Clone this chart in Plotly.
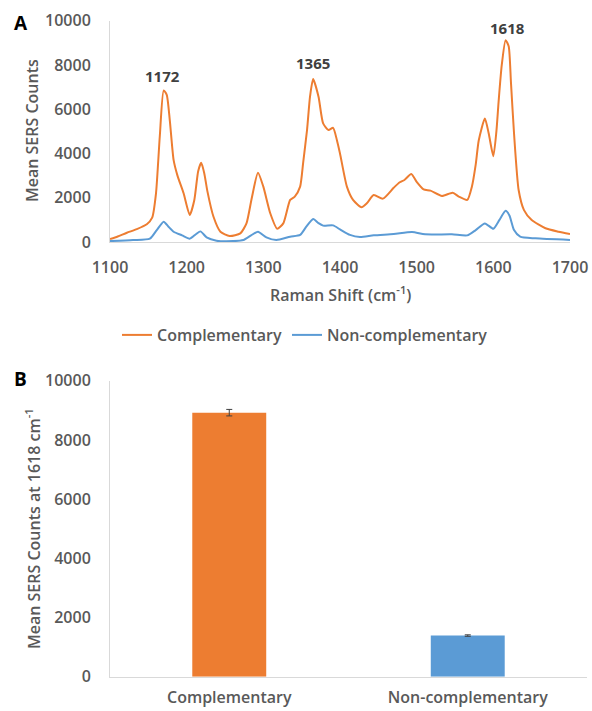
import plotly.graph_objects as go

# ---- Panel A: mean SERS spectra ----
comp_shift = [1100, 1110, 1122, 1135, 1148, 1155, 1160, 1165, 1170, 1174, 1178, 1183, 1188, 1196,
              1204, 1210, 1215, 1219, 1223, 1227, 1235, 1244, 1256, 1270, 1278, 1285, 1293, 1300,
              1309, 1318, 1326, 1335, 1341, 1348, 1352, 1357, 1361, 1365, 1372, 1378, 1385, 1391,
              1396, 1400, 1409, 1417, 1428, 1435, 1444, 1456, 1470, 1478, 1484, 1493, 1500, 1509,
              1518, 1533, 1547, 1555, 1566, 1572, 1577, 1581, 1589, 1594, 1600, 1604, 1607, 1611,
              1616, 1620, 1623, 1627, 1633, 1640, 1650, 1668, 1685, 1700]
comp_counts = [130, 250, 420, 580, 800, 1100, 2200, 4800, 6850, 6650, 5500, 3700, 3000, 2200,
               1220, 1900, 3200, 3580, 3100, 2300, 1140, 465, 270, 390, 840, 2000, 3130, 2500,
               1300, 600, 840, 1900, 2050, 2500, 3600, 5060, 6600, 7360, 6560, 5360, 5060, 5160,
               4600, 4000, 2500, 1900, 1570, 1750, 2120, 1960, 2450, 2700, 2800, 3070, 2720, 2380,
               2320, 2080, 2230, 2050, 1900, 2500, 3500, 4600, 5580, 4900, 3880, 5000, 6400, 8000,
               9120, 8850, 7200, 4900, 2350, 1440, 990, 620, 465, 360]

noncomp_shift = [1100, 1130, 1152, 1161, 1170, 1176, 1183, 1194, 1204, 1212, 1218, 1226, 1239,
                 1261, 1274, 1284, 1293, 1304, 1317, 1335, 1348, 1356, 1365, 1372, 1378, 1391,
                 1400, 1413, 1426, 1444, 1470, 1494, 1511, 1546, 1566, 1577, 1589, 1600, 1608,
                 1616, 1621, 1627, 1635, 1655, 1700]
noncomp_counts = [40, 90, 150, 540, 920, 700, 465, 300, 150, 350, 480, 210, 60,
                  40, 90, 300, 465, 210, 90, 240, 320, 690, 1040, 850, 740, 750,
                  570, 320, 225, 300, 360, 450, 345, 345, 300, 540, 840, 600, 1000,
                  1410, 1200, 540, 240, 165, 90]

peak_labels = ["1172", "1365", "1618"]
peak_x = [1169, 1365, 1618]
peak_label_y = [7500, 8100, 9650]

x_ticks = [1100, 1200, 1300, 1400, 1500, 1600, 1700]
y_ticks = [0, 2000, 4000, 6000, 8000, 10000]
y_tick_labels = ["0", "2000", "4000", "6000", "8000", "10000"]

# ---- Panel B: counts at 1618 cm-1 ----
groups = ["Complementary", "Non-complementary"]
mean_1618 = [8920, 1390]
err_1618 = [110, 25]

ORANGE = "#ED7D31"
BLUE = "#5B9BD5"
TXT = "#595959"
AXC = "#D9D9D9"
FONT = "Open Sans"
W, H = 592, 711

fig = go.Figure()
fig.add_trace(go.Scatter(x=comp_shift, y=comp_counts, mode="lines", name="Complementary",
                         line=dict(color=ORANGE, width=2, shape="spline", smoothing=0.6),
                         xaxis="x", yaxis="y"))
fig.add_trace(go.Scatter(x=noncomp_shift, y=noncomp_counts, mode="lines", name="Non-complementary",
                         line=dict(color=BLUE, width=2, shape="spline", smoothing=0.6),
                         xaxis="x", yaxis="y"))
fig.add_trace(go.Bar(x=groups, y=mean_1618, marker=dict(color=[ORANGE, BLUE], line=dict(width=0)),
                     error_y=dict(type="data", array=err_1618, color="#404040", thickness=1, width=3),
                     showlegend=False, xaxis="x2", yaxis="y2"))

tickfont = dict(family=FONT, size=16, color=TXT, weight=600)

def px_x(p):
    return p / W

def px_y(p):
    return 1 - p / H

annotations = []
for t, x, y in zip(peak_labels, peak_x, peak_label_y):
    annotations.append(dict(x=x, y=y, xref="x", yref="y", text=t, showarrow=False,
                            font=dict(family=FONT, size=15, color="#404040", weight=700),
                            xanchor="center", yanchor="middle"))
annotations += [
    dict(x=px_x(21), y=px_y(23), xref="paper", yref="paper", text="A", showarrow=False,
         font=dict(family=FONT, size=19, color="#000000", weight=700), xanchor="center", yanchor="middle"),
    dict(x=px_x(20), y=px_y(379), xref="paper", yref="paper", text="B", showarrow=False,
         font=dict(family=FONT, size=19, color="#000000", weight=700), xanchor="center", yanchor="middle"),
    dict(x=px_x(32), y=px_y(131), xref="paper", yref="paper", text="Mean SERS Counts", textangle=-90,
         showarrow=False, font=tickfont, xanchor="center", yanchor="middle"),
    dict(x=px_x(340), y=px_y(294), xref="paper", yref="paper", text="Raman Shift (cm<sup>-1</sup>)",
         showarrow=False, font=tickfont, xanchor="center", yanchor="middle"),
    dict(x=px_x(33), y=px_y(529), xref="paper", yref="paper",
         text="Mean SERS Counts at 1618 cm<sup>-1</sup>", textangle=-90,
         showarrow=False, font=tickfont, xanchor="center", yanchor="middle"),
]

axis_common = dict(showgrid=False, zeroline=False, showline=True, linecolor=AXC, linewidth=1,
                   ticks="", tickfont=tickfont, automargin=False)

fig.update_layout(
    width=W, height=H,
    margin=dict(l=0, r=0, t=0, b=0),
    paper_bgcolor="white", plot_bgcolor="white",
    font=dict(family=FONT, color=TXT),
    xaxis=dict(domain=[px_x(110), px_x(570)], range=[1100, 1700], tickvals=x_ticks,
               ticktext=[str(v) for v in x_ticks],
               ticklabelstandoff=11, anchor="y", **axis_common),
    yaxis=dict(domain=[px_y(242), px_y(20.7)], range=[0, 10000], tickvals=y_ticks,
               ticktext=y_tick_labels, ticklabelstandoff=15, anchor="x", **axis_common),
    xaxis2=dict(domain=[px_x(110), px_x(587)], anchor="y2", ticklabelstandoff=6, **axis_common),
    yaxis2=dict(domain=[px_y(676.7), px_y(380.7)], range=[0, 10000], tickvals=y_ticks,
                ticktext=y_tick_labels, ticklabelstandoff=15, anchor="x2", **axis_common),
    bargap=0.69,
    legend=dict(orientation="h", x=px_x(305), xanchor="center", y=px_y(335), yanchor="middle",
                font=tickfont, bgcolor="rgba(0,0,0,0)", itemwidth=30),
    annotations=annotations,
)

fig.write_html("out.html", config={"displayModeBar": False},
               post_script="document.body.style.margin='0';")
